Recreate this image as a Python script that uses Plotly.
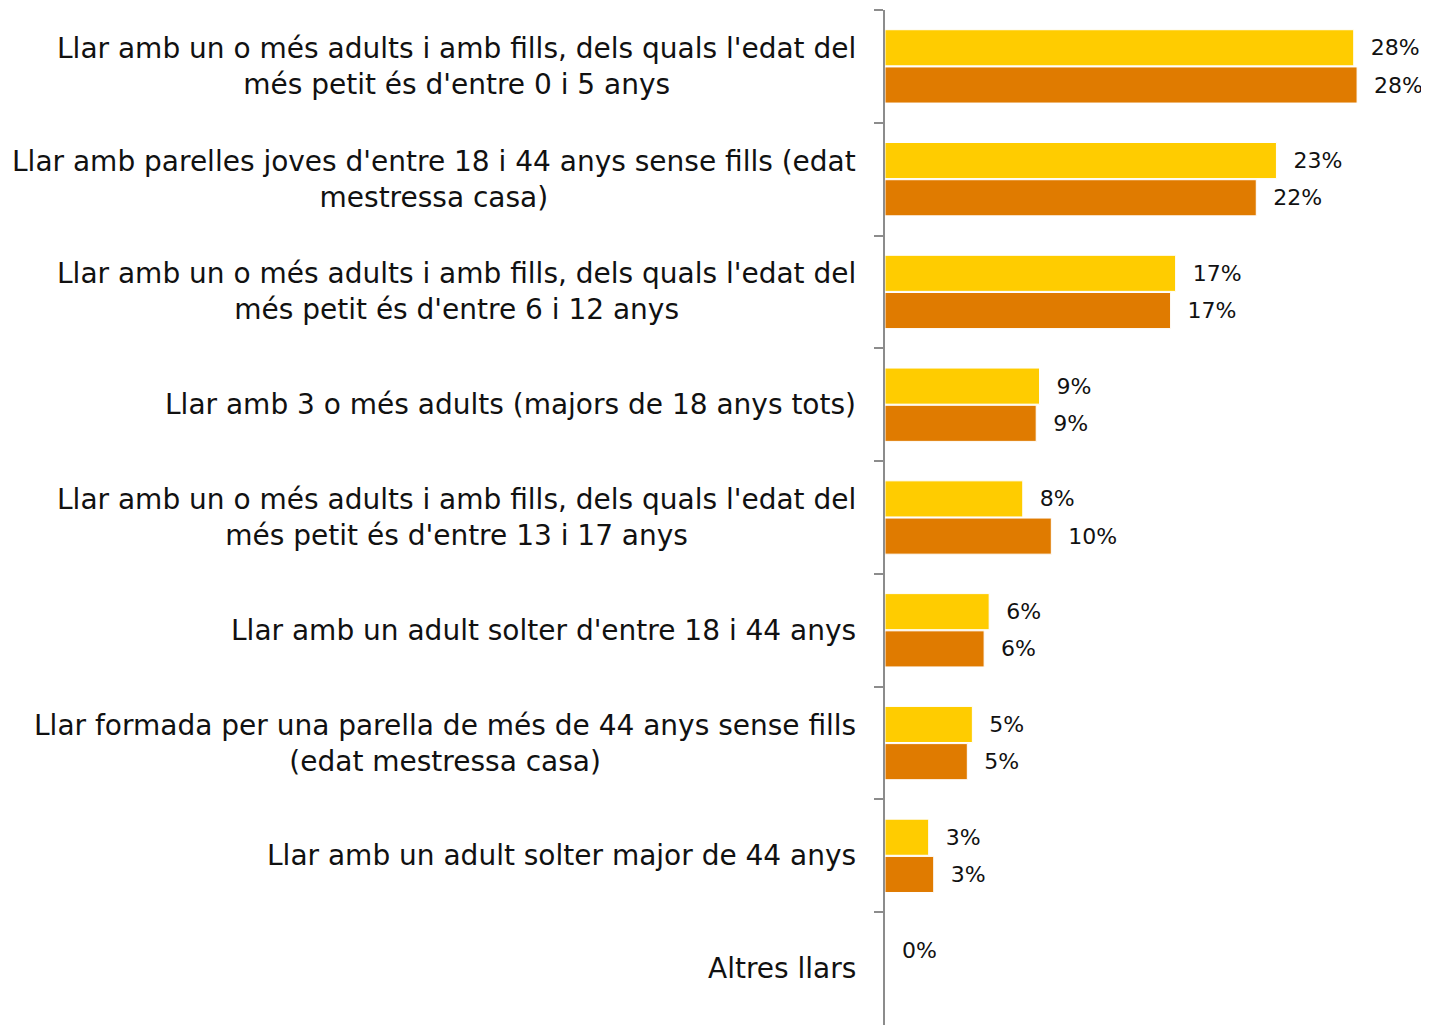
import plotly.graph_objects as go

categories = [
    "Llar amb un o més adults i amb fills, dels quals l'edat del<br>més petit és d'entre 0 i 5 anys",
    "Llar amb parelles joves d'entre 18 i 44 anys sense fills (edat<br>mestressa casa)",
    "Llar amb un o més adults i amb fills, dels quals l'edat del<br>més petit és d'entre 6 i 12 anys",
    "Llar amb 3 o més adults (majors de 18 anys tots)",
    "Llar amb un o més adults i amb fills, dels quals l'edat del<br>més petit és d'entre 13 i 17 anys",
    "Llar amb un adult solter d'entre 18 i 44 anys",
    "Llar formada per una parella de més de 44 anys sense fills<br>(edat mestressa casa)",
    "Llar amb un adult solter major de 44 anys",
    "Altres llars",
]
series_a = [27.9, 23.3, 17.3, 9.2, 8.2, 6.2, 5.2, 2.6, 0.0]
series_b = [28.1, 22.1, 17.0, 9.0, 9.9, 5.9, 4.9, 2.9, None]
labels_a = ["28%", "23%", "17%", "9%", "8%", "6%", "5%", "3%", "0%"]
labels_b = ["28%", "22%", "17%", "9%", "10%", "6%", "5%", "3%", ""]

FONT = "DejaVu Sans"

fig = go.Figure()
fig.add_trace(go.Bar(
    y=categories, x=series_a, orientation="h",
    marker=dict(color="#FFCC00", line=dict(color="#FFFFFF", width=1)),
    text=["  " + t for t in labels_a], textposition="outside",
    textfont=dict(family=FONT, size=22, color="#111111"),
    cliponaxis=False, constraintext="none", hoverinfo="skip",
))
fig.add_trace(go.Bar(
    y=categories, x=series_b, orientation="h",
    marker=dict(color="#E07B00", line=dict(color="#FFFFFF", width=1)),
    text=["  " + t for t in labels_b], textposition="outside",
    textfont=dict(family=FONT, size=22, color="#111111"),
    cliponaxis=False, constraintext="none", hoverinfo="skip",
))

for c in categories:
    fig.add_annotation(
        x=0, xref="paper", xanchor="right", xshift=-27,
        y=c, yref="y", yanchor="middle",
        text=c, showarrow=False, align="center",
        font=dict(family=FONT, size=28, color="#111111"),
    )

fig.update_layout(
    width=1421, height=1017,
    margin=dict(l=877, r=40, t=2, b=0),
    paper_bgcolor="white", plot_bgcolor="white",
    barmode="group", bargap=0.34, bargroupgap=0.03,
    showlegend=False,
    xaxis=dict(range=[0, 30], visible=False),
    yaxis=dict(
        type="category", autorange="reversed",
        showticklabels=False,
        ticks="outside", tickson="boundaries", ticklen=9, tickwidth=2,
        tickcolor="#8C8C8C", showline=True, linecolor="#8C8C8C", linewidth=2,
        showgrid=False, zeroline=False,
    ),
)

fig.write_html("out.html")
